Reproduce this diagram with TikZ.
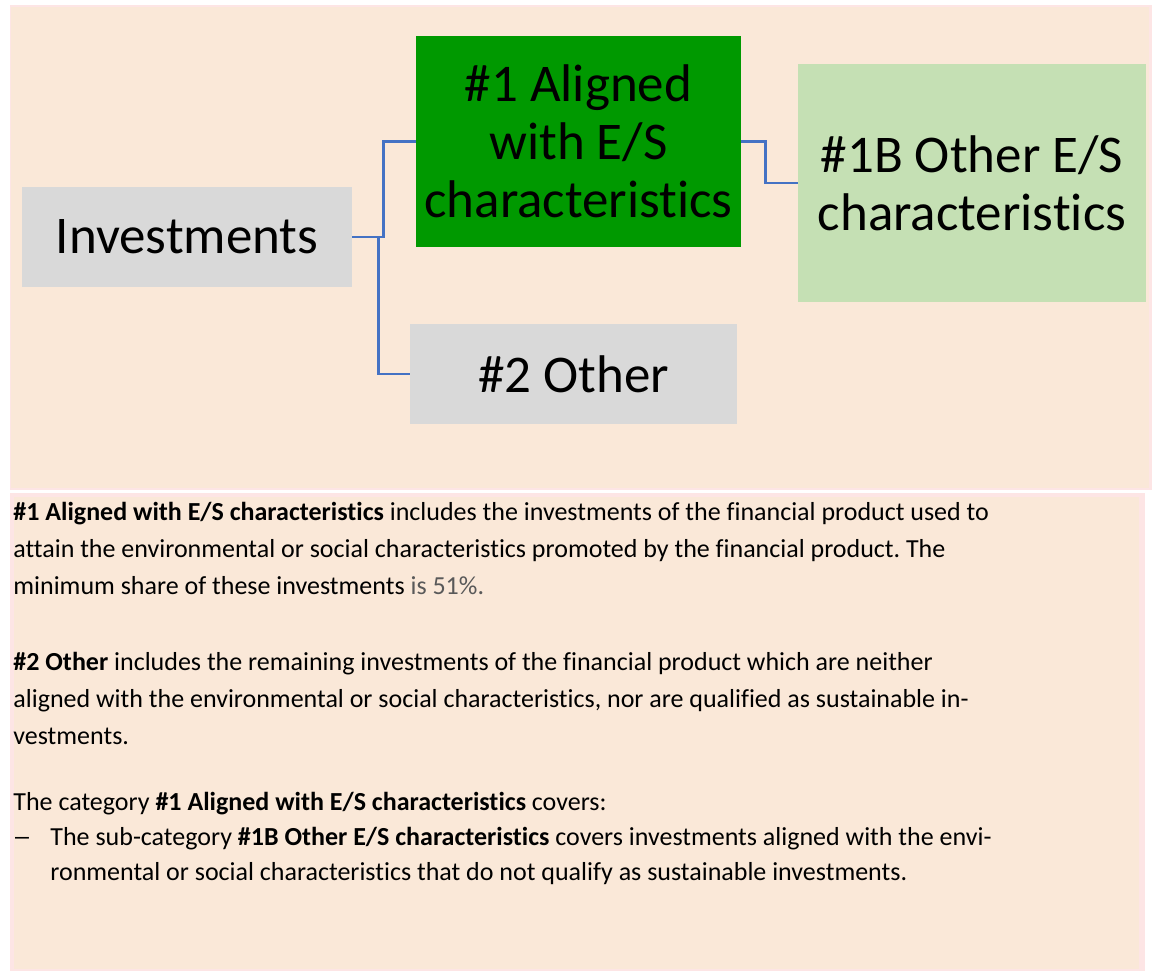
\documentclass[tikz,border=0pt]{standalone}
\usepackage{fontspec}
\setmainfont{Carlito}[Ligatures=NoCommon]
\usepackage{tikz}
\usetikzlibrary{positioning}
\frenchspacing
\definecolor{panelbeige}{RGB}{250,232,216}
\definecolor{panelpink}{RGB}{253,229,229}
\definecolor{boxgray}{RGB}{217,217,217}
\definecolor{boxgreen}{RGB}{0,153,0}
\definecolor{boxlightgreen}{RGB}{197,224,180}
\definecolor{linkblue}{RGB}{68,114,196}
\definecolor{numgray}{RGB}{89,89,89}
\tikzset{
	catbox/.style={rectangle, inner sep=0pt, align=center,
		font={\fontsize{26.5pt}{29pt}\selectfont}},
	link/.style={draw=linkblue, line width=1.2pt},
	bodytext/.style={anchor=base west, inner sep=0pt, align=left,
		font={\fontsize{13pt}{18.5pt}\selectfont}}
}

\begin{document}
\begin{tikzpicture}[x=0.5pt, y=-0.5pt]
	\useasboundingbox (0,0) rectangle (1154,972);
	% panels
	\fill[panelpink] (10,5) rectangle (1152,490);
	\fill[panelbeige] (11,7) rectangle (1149,488);
	\fill[panelpink] (10,493) rectangle (1145,971);
	\fill[panelbeige] (14,497) rectangle (1139,969);

	% diagram
	\node (inv) [catbox, fill=boxgray, minimum width=165pt, minimum height=50pt] at (187,237) {Investments};
	\node (al) [catbox, fill=boxgreen, minimum width=162.5pt, minimum height=105.5pt] at (578.5,141.5) {\#1 Aligned\\with E/S\\characteristics};
	\node (ob) [catbox, fill=boxlightgreen, minimum width=174pt, minimum height=119pt] at (972,183) {\#1B Other E/S\\characteristics};
	\node (ot) [catbox, fill=boxgray, minimum width=163.5pt, minimum height=50pt] at (573.5,374) {\#2 Other};
	\draw[link] (inv.east) -- ++(31,0) |- (al.west);
	\draw[link] (inv.east) -- ++(26,0) |- (ot.west);
	\draw[link] (al.east) -- ++(24,0) |- (ob.west);

	% explanations (base = last line)
	\node (txtal) [bodytext] at (13,594) {\textbf{\#1 Aligned with E/S characteristics} includes the investments of the financial product used to\\attain the environmental or social characteristics promoted by the financial product. The\\minimum share of these investments {\color{numgray}is 51\%.}};
	\node (txtot) [bodytext] at (13,744) {\textbf{\#2 Other} includes the remaining investments of the financial product which are neither\\aligned with the environmental or social characteristics, nor are qualified as sustainable in-\\vestments.};
	\node (txtcat) [bodytext] at (13,810) {The category \textbf{\#1 Aligned with E/S characteristics} covers:};
	\node (dash) [bodytext] at (12,845) {\scalebox{1.5}[1]{–}};
	\node (txtob) [bodytext, font={\fontsize{13pt}{17.5pt}\selectfont}] at (50,880) {The sub-category \textbf{\#1B Other E/S characteristics} covers investments aligned with the envi-\\ronmental or social characteristics that do not qualify as sustainable investments.};
\end{tikzpicture}
\end{document}
